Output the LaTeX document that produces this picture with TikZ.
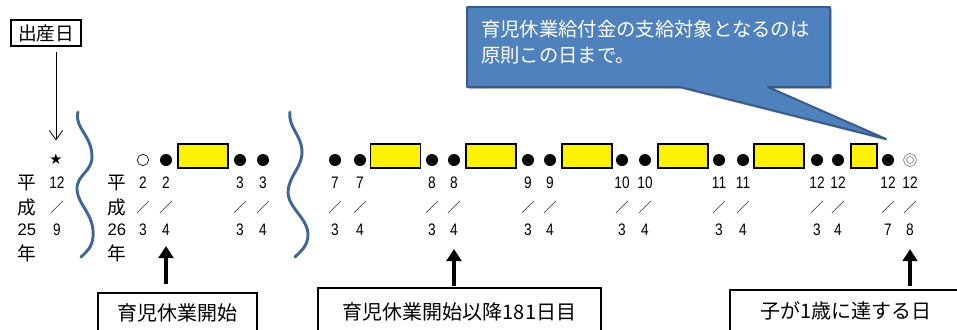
\documentclass[tikz,border=0pt]{standalone}
\usepackage{fontspec}
\setmainfont{Noto Sans CJK JP}
\newfontfamily\numfont[FakeStretch=0.82]{Liberation Sans}
\newfontfamily\latnfont{Liberation Sans}
\newfontfamily\symfont{DejaVu Sans}
\usetikzlibrary{arrows.meta,calc}
\definecolor{bracecol}{RGB}{62,102,150}
\definecolor{callfill}{RGB}{79,129,189}
\definecolor{callline}{RGB}{56,93,138}
\begin{document}
\begin{tikzpicture}[x=0.75pt,y=-0.75pt,
  num/.style={font=\numfont\fontsize{12.5}{12.5}\selectfont, inner sep=0pt},
  sl/.style={font=\fontsize{10}{10}\selectfont, inner sep=0pt},
  dot/.style={circle, fill=black, minimum size=9pt, inner sep=0pt},
  odot/.style={circle, draw=black, line width=0.5pt, minimum size=8.5pt, inner sep=0pt},
  ddot/.style={circle, draw=gray, double=white, double distance=1.4pt, line width=0.6pt, minimum size=7.5pt, inner sep=0pt},
  ybox/.style={draw=black, line width=0.8pt, fill=yellow, minimum height=18pt, inner sep=0pt},
  lbl/.style={draw=black, line width=1.6pt, font=\fontsize{15}{15}\selectfont, inner sep=0pt},
  vt/.style={font=\fontsize{14}{14}\selectfont, inner sep=0pt},
  vn/.style={font=\latnfont\fontsize{12.5}{12.5}\selectfont, inner sep=0pt},
  bracestyle/.style={draw=bracecol, line width=2.2pt, line cap=round},
  bigarrow/.style={line width=3.6pt, -{Triangle[length=9pt,width=11pt]}},
  thinarrow/.style={line width=0.6pt, -{Straight Barb[length=7pt,width=10pt]}}
]
\useasboundingbox (0,0) rectangle (957,329);

% callout
\fill[black!25] (469,9) -- (832,9) -- (832,89) -- (770,89) -- (888,141) -- (682,89) -- (469,89) -- cycle;
\draw[callline, fill=callfill, line width=1.5pt, line join=round]
  (467,7) -- (830,7) -- (830,87) -- (768,87) -- (886,139) -- (680,87) -- (467,87) -- cycle;
\node[anchor=west, text=white, font=\fontsize{14.5}{14.5}\selectfont, inner sep=0pt] (ct1) at (481,29) {育児休業給付金の支給対象となるのは};
\node[anchor=west, text=white, font=\fontsize{14.5}{14.5}\selectfont, inner sep=0pt] (ct2) at (481,55) {原則この日まで。};

% birth date
\node[draw=black, line width=1.6pt, font=\fontsize{14}{14}\selectfont, minimum width=53pt, minimum height=19.5pt, inner sep=0pt] (birth) at (46,33) {出産日};
\node[font=\symfont\fontsize{11}{11}\selectfont, inner sep=0pt] (star) at (56,159) {★};
\draw[thinarrow] ($(birth.south -| star)+(0,5)$) -- ($(star.north)+(0,-13)$);

% era labels
\node[vt] (h1) at (27,183) {平};
\node[vt] (h2) at (27,207) {成};
\node[vn] (h3) at (27,230) {25};
\node[vt] (h4) at (27,253) {年};
\node[vt] (k1) at (117,183) {平};
\node[vt] (k2) at (117,207) {成};
\node[vn] (k3) at (117,230) {26};
\node[vt] (k4) at (117,253) {年};

\node[num] (m0) at (57,183) {12};
\node[sl] (s0) at (57,207) {／};
\node[num] (d0) at (57,230) {9};

% braces
\path[bracestyle] (78,112) .. controls (74,128) and (92,135) .. (92,157)
  .. controls (92,172) and (76,175) .. (77,190)
  .. controls (78,205) and (95,215) .. (93,237)
  .. controls (92,248) and (86,252) .. (81,257);
\path[bracestyle] (290,112) .. controls (288,128) and (302,135) .. (302,152)
  .. controls (302,168) and (289,175) .. (288,192)
  .. controls (288,208) and (308,218) .. (308,235)
  .. controls (308,246) and (300,252) .. (295,257);

% dates
\foreach \x/\a/\b/\s [count=\i] in {143/2/3/odot,166/2/4/dot,240/3/3/dot,263/3/4/dot,335/7/3/dot,360/7/4/dot,432/8/3/dot,454/8/4/dot,528/9/3/dot,550/9/4/dot,622/10/3/dot,645/10/4/dot,719/11/3/dot,743/11/4/dot,817/12/3/dot,838/12/4/dot,888/12/7/dot,910/12/8/ddot}{
  \node[\s] (c\i) at (\x,160) {};
  \node[num] (m\i) at (\x,183) {\a};
  \node[sl] (s\i) at (\x,207) {／};
  \node[num] (d\i) at (\x,230) {\b};
}

% yellow boxes
\foreach \cx/\w [count=\j] in {203/37.5,395.5/37,491/37.5,587/37.5,683/37.5,779/37.5,864/19.5}{
  \node[ybox, minimum width=\w pt] (y\j) at (\cx,156) {};
}

% bottom labels
\node[lbl, minimum width=119.25pt, minimum height=30pt] (b1) at (177.5,313) {育児休業開始};
\node[lbl, minimum width=212.25pt, minimum height=36pt] (b2) at (459.5,312) {育児休業開始以降181日目};
\node[lbl, minimum width=174pt, minimum height=31.5pt] (b3) at (846,311) {子が1歳に達する日};

\draw[bigarrow] ($(b1.north -| d2)+(0,-8)$) -- ($(d2.south)+(0,10)$);
\draw[bigarrow] ($(b2.north -| d8)+(0,-1)$) -- ($(d8.south)+(0,13)$);
\draw[bigarrow] ($(b3.north -| d18)+(0,-3)$) -- ($(d18.south)+(0,13)$);
\end{tikzpicture}
\end{document}
